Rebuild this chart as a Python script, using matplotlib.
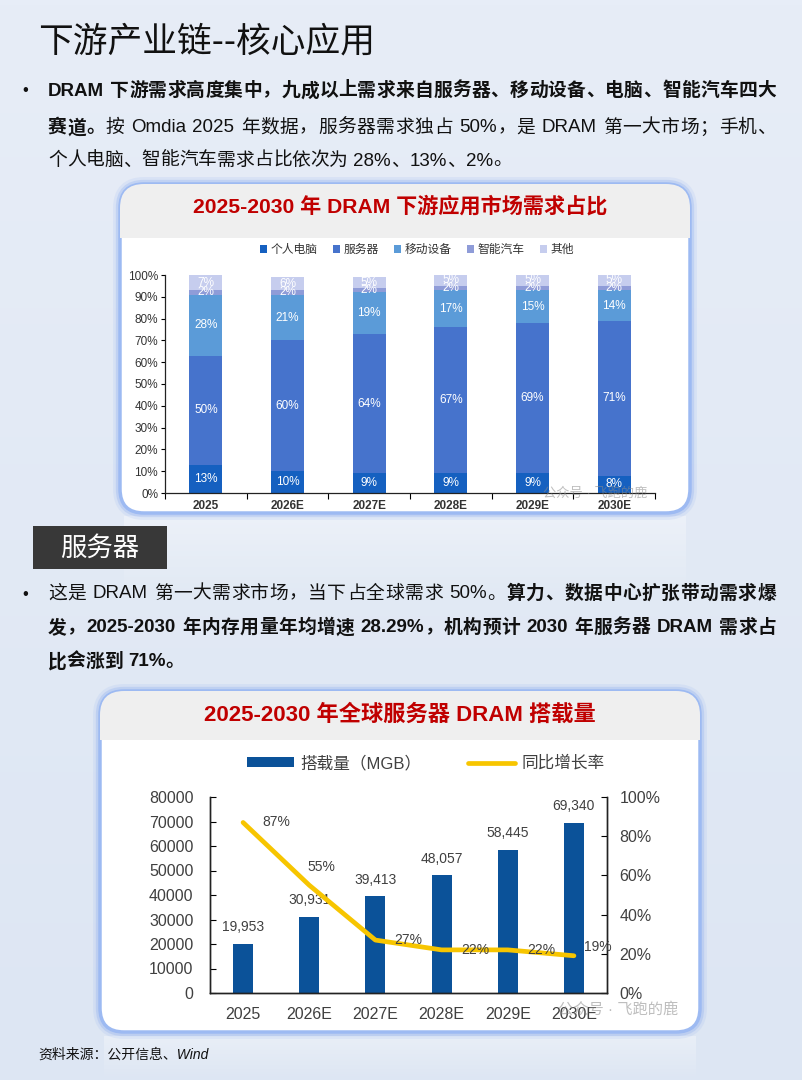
import re
import numpy as np
import matplotlib
matplotlib.use('Agg')
import matplotlib.pyplot as plt
from matplotlib.patches import FancyBboxPatch, Rectangle
from matplotlib.colors import LinearSegmentedColormap

# ---- 数据 ----
years = ['2025', '2026E', '2027E', '2028E', '2029E', '2030E']
seg_names = ['个人电脑', '服务器', '移动设备', '智能汽车', '其他']
share_pc = [13, 10, 9, 9, 9, 8]
share_server = [50, 60, 64, 67, 69, 71]
share_mobile = [28, 21, 19, 17, 15, 14]
share_auto = [2, 2, 2, 2, 2, 2]
share_other = [7, 6, 5, 5, 5, 5]
seg_colors = ['#1560c0', '#4673cc', '#5b9bd8', '#8f9cd8', '#c6cdee']

dram_mgb = [19953, 30931, 39413, 48057, 58445, 69340]
yoy_pct = [87, 55, 27, 22, 22, 19]
# 标签偏移 (points)
yoy_offsets = [(24, 0), (9, 13), (24, 0), (24, 0), (24, 0), (17, 6)]

title = '下游产业链--核心应用'
chart1_title = '2025-2030 年 DRAM 下游应用市场需求占比'
chart2_title = '2025-2030 年全球服务器 DRAM 搭载量'
section_label = '服务器'
source_note = '资料来源：公开信息、Wind'
watermark = '公众号 · 飞跑的鹿'

para1 = [
    [('DRAM 下游需求高度集中，九成以上需求来自服务器、移动设备、电脑、智能汽车四大', True)],
    [('赛道。', True), ('按 Omdia 2025 年数据，服务器需求独占 50%，是 DRAM 第一大市场；手机、', False)],
    [('个人电脑、智能汽车需求占比依次为 28%、13%、2%。', False)],
]
para2 = [
    [('这是 DRAM 第一大需求市场，当下占全球需求 50%。', False), ('算力、数据中心扩张带动需求爆', True)],
    [('发，2025-2030 年内存用量年均增速 28.29%，机构预计 2030 年服务器 DRAM 需求占', True)],
    [('比会涨到 71%。', True)],
]

W, H = 802, 1080
FAM = ['Liberation Sans', 'Noto Sans CJK SC']

fig = plt.figure(figsize=(W / 100, H / 100), dpi=100)
bg = fig.add_axes([0, 0, 1, 1])
bg.axis('off')
renderer = fig.canvas.get_renderer()

# 背景渐变
bg_cmap = LinearSegmentedColormap.from_list('bgc', ['#e7edf7', '#dde6f3'])
bg.imshow(np.linspace(0, 1, 200).reshape(-1, 1), extent=[0, W, H, 0],
          cmap=bg_cmap, aspect='auto', zorder=0)


def fig_rect(x0, y0, x1, y1):
    return [x0 / W, 1 - y1 / H, (x1 - x0) / W, (y1 - y0) / H]


def panel(x0, y0, x1, y1, band_y):
    for lw, a in [(10, 0.12), (6, 0.25)]:
        bg.add_patch(FancyBboxPatch((x0, y0), x1 - x0, y1 - y0,
                                    boxstyle='round,pad=0,rounding_size=24',
                                    fc='none', ec='#7fa4ee', lw=lw, alpha=a, zorder=1))
    face = FancyBboxPatch((x0, y0), x1 - x0, y1 - y0,
                          boxstyle='round,pad=0,rounding_size=24',
                          fc='white', ec='#9dbaf2', lw=2.5, zorder=1.2)
    bg.add_patch(face)
    band = Rectangle((x0, y0), x1 - x0, band_y - y0, fc='#efefef', ec='none', zorder=1.3)
    bg.add_patch(band)
    band.set_clip_path(face)


def reflection(x0, x1, y0, y1):
    arr = np.ones((60, 1, 4))
    arr[..., 3] = np.linspace(0.35, 0, 60)[:, None]
    bg.imshow(arr, extent=[x0, x1, y1, y0], aspect='auto', zorder=0.5)


_wcache = {}


def tok_width(t, bold, size):
    key = (t, bold, size)
    if key not in _wcache:
        kw = dict(fontsize=size, fontweight='bold' if bold else 'normal', family=FAM)
        o = bg.text(0, 0, '中' + t + '中', **kw)
        w1 = o.get_window_extent(renderer).width
        o.set_text('中中')
        w2 = o.get_window_extent(renderer).width
        o.remove()
        _wcache[key] = w1 - w2
    return _wcache[key]


def text_line(y, runs, x0=48, x1=None, size=13.5):
    toks = []
    for s, bold in runs:
        for t in re.findall(r'[A-Za-z0-9.,%\-]+| |.', s):
            toks.append((t, bold))
    widths = [tok_width(t, b, size) for t, b in toks]
    gap = 0
    if x1 is not None and len(toks) > 1:
        gap = (x1 - x0 - sum(widths)) / (len(toks) - 1)
    x = x0
    for (t, b), w in zip(toks, widths):
        if t != ' ':
            bg.text(x, y, t, fontsize=size, fontweight='bold' if b else 'normal',
                    family=FAM, va='center', ha='left', color='#111111', zorder=3)
        x += w + gap


# ---- 标题 与 段落 ----
bg.text(38, 42, title, fontsize=25, family=['Noto Sans CJK SC'], va='center',
        ha='left', color='#111111', zorder=3)

for y, runs, just in zip([91, 128, 161], para1, [True, True, False]):
    text_line(y, runs, x1=776 if just else None)
bg.text(25, 91, '•', fontsize=12, family=FAM, va='center', ha='center', color='#111111')

for y, runs, just in zip([594, 628, 662], para2, [True, True, False]):
    text_line(y, runs, x1=776 if just else None)
bg.text(25, 594, '•', fontsize=12, family=FAM, va='center', ha='center', color='#111111')

# 面板
reflection(124, 686, 516, 600)
reflection(104, 696, 1036, 1080)
panel(120, 184, 690, 513, 238)
panel(100, 691, 700, 1032, 740)

bg.text(400, 206, chart1_title, fontsize=15.2, fontweight='bold', family=FAM,
        color='#c00000', ha='center', va='center', zorder=3)
bg.text(400, 715, chart2_title, fontsize=16, fontweight='bold', family=FAM,
        color='#c00000', ha='center', va='center', zorder=3)

# 服务器 标签框
bg.add_patch(Rectangle((33, 526), 134, 43, fc='#383838', ec='none', zorder=2))
bg.text(100, 548, section_label, fontsize=19, family=['Noto Sans CJK SC'],
        color='white', ha='center', va='center', zorder=3)

bg.text(38, 1055, source_note, fontsize=10, style='italic', family=FAM,
        color='#111111', ha='left', va='center', zorder=3)

bg.set_xlim(0, W)
bg.set_ylim(H, 0)

# ---- 图1：堆叠柱状图 ----
ax1 = fig.add_axes(fig_rect(165, 275, 655, 493))
ax1.set_facecolor('none')
x = np.arange(len(years))
series = [share_pc, share_server, share_mobile, share_auto, share_other]
bottom = np.zeros(len(years))
for name, vals, c in zip(seg_names, series, seg_colors):
    vals = np.array(vals, dtype=float)
    ax1.bar(x, vals, 0.4, bottom=bottom, color=c, label=name, zorder=2)
    for xi, b, v in zip(x, bottom, vals):
        ax1.text(xi, b + v / 2, f'{int(v)}%', ha='center', va='center',
                 color='white', fontsize=8.5, family=FAM, zorder=3)
    bottom += vals

ax1.set_xlim(-0.5, len(years) - 0.5)
ax1.set_ylim(0, 100)
ax1.set_yticks(np.arange(0, 101, 10))
ax1.set_yticklabels([f'{v}%' for v in range(0, 101, 10)], fontsize=8.5,
                    family=FAM, color='#333333')
ax1.set_xticks(x)
ax1.set_xticklabels(years, fontsize=8.5, family=FAM, fontweight='bold', color='#333333')
ax1.set_xticks(np.arange(-0.5, len(years), 1), minor=True)
ax1.tick_params(axis='x', which='major', length=0, pad=5)
ax1.tick_params(axis='x', which='minor', length=4, direction='out', width=0.8)
ax1.tick_params(axis='y', length=3, direction='out', width=0.8, pad=2)
for s in ['top', 'right']:
    ax1.spines[s].set_visible(False)
for s in ['left', 'bottom']:
    ax1.spines[s].set_linewidth(0.9)
    ax1.spines[s].set_color('#222222')

leg1 = ax1.legend(loc='center', bbox_to_anchor=(417 / W, 1 - 250 / H),
                  bbox_transform=fig.transFigure, ncol=5, frameon=False,
                  prop={'family': FAM, 'size': 8.5}, handlelength=0.6,
                  handleheight=0.6, handletextpad=0.3, columnspacing=1.3)
for t in leg1.get_texts():
    t.set_color('#333333')

ax1.text(0.985, 0.0, watermark, transform=ax1.transAxes, fontsize=9.5,
         family=FAM, color='#8a8a8a', alpha=0.55, ha='right', va='center', zorder=4)

# ---- 图2：柱状 + 折线 ----
ax2 = fig.add_axes(fig_rect(210, 797, 607, 993))
ax2.set_facecolor('none')
bars = ax2.bar(x, dram_mgb, 0.3, color='#0b5299', label='搭载量（MGB）', zorder=2)
for xi, v in zip(x, dram_mgb):
    ax2.annotate(f'{v:,}', (xi, v), xytext=(0, 7), textcoords='offset points',
                 ha='center', va='bottom', fontsize=10, family=FAM, color='#404040')
ax2.set_xlim(-0.5, len(years) - 0.5)
ax2.set_ylim(0, 80000)
ax2.set_yticks(np.arange(0, 80001, 10000))
ax2.set_xticks(x)
ax2.set_xticklabels(years)
ax2.tick_params(axis='x', length=0, pad=10, labelsize=11.5, labelcolor='#404040')
ax2.tick_params(axis='y', direction='in', length=4, pad=12, labelsize=11.5,
                labelcolor='#404040')
for lab in ax2.get_xticklabels() + ax2.get_yticklabels():
    lab.set_family(FAM)
ax2.spines['top'].set_visible(False)

ax2b = ax2.twinx()
ax2b.set_facecolor('none')
yoy = np.array(yoy_pct) / 100
line, = ax2b.plot(x, yoy, color='#f7c500', lw=3.4, solid_capstyle='round',
                  solid_joinstyle='round', label='同比增长率', zorder=3)
for xi, v, off in zip(x, yoy_pct, yoy_offsets):
    ax2b.annotate(f'{v}%', (xi, v / 100), xytext=off, textcoords='offset points',
                  ha='center', va='center', fontsize=10, family=FAM, color='#404040')
ax2b.set_ylim(0, 1)
ax2b.set_yticks(np.arange(0, 1.01, 0.2))
ax2b.set_yticklabels([f'{int(round(v * 100))}%' for v in np.arange(0, 1.01, 0.2)])
ax2b.tick_params(axis='y', direction='in', length=4, pad=9, labelsize=11.5,
                 labelcolor='#404040')
for lab in ax2b.get_yticklabels():
    lab.set_family(FAM)
ax2b.spines['top'].set_visible(False)
for a in (ax2, ax2b):
    for s in ['left', 'right', 'bottom']:
        a.spines[s].set_linewidth(1.0)
        a.spines[s].set_color('#222222')

leg2 = ax2b.legend([bars, line], ['搭载量（MGB）', '同比增长率'], loc='center',
                   bbox_to_anchor=(426 / W, 1 - 763 / H), bbox_transform=fig.transFigure,
                   ncol=2, frameon=False, prop={'family': FAM, 'size': 12},
                   handlelength=2.8, handleheight=0.5, handletextpad=0.4,
                   columnspacing=2.8)
for t in leg2.get_texts():
    t.set_color('#404040')

ax2b.text(1.18, -0.08, watermark, transform=ax2b.transAxes, fontsize=11,
          family=FAM, color='#8a8a8a', alpha=0.55, ha='right', va='center', zorder=4)

fig.savefig('out.png', dpi=100)
